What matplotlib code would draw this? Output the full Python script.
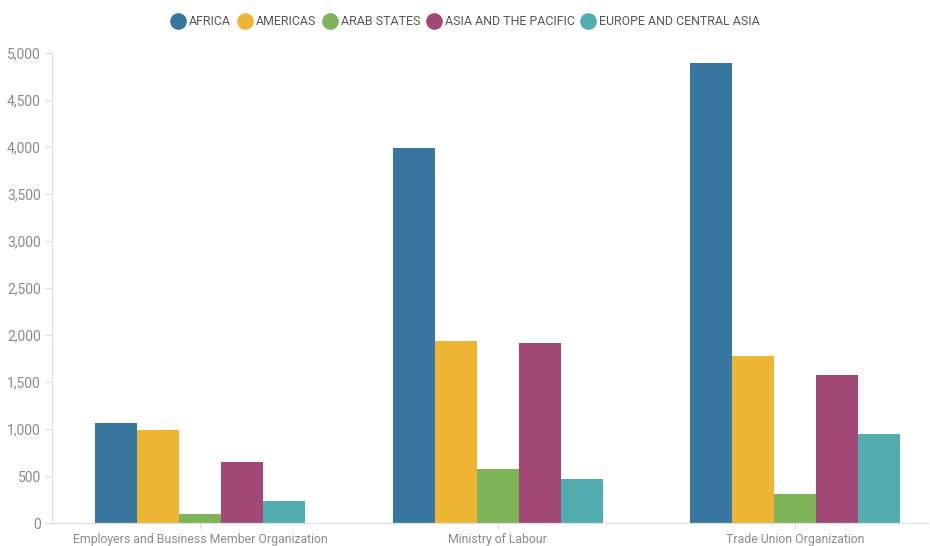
import matplotlib
matplotlib.use("Agg")
import matplotlib.pyplot as plt
import numpy as np
from matplotlib.ticker import FuncFormatter
from matplotlib.lines import Line2D

categories = ["Employers and Business Member Organization", "Ministry of Labour", "Trade Union Organization"]
series_names = ["AFRICA", "AMERICAS", "ARAB STATES", "ASIA AND THE PACIFIC", "EUROPE AND CENTRAL ASIA"]
africa = [1060, 3990, 4890]
americas = [985, 1940, 1780]
arab_states = [100, 570, 310]
asia_pacific = [645, 1910, 1570]
europe_central_asia = [240, 470, 950]
colors = ["#37769f", "#eeb534", "#7eb35a", "#a24877", "#52adaf"]

plt.rcParams['font.family'] = ['Roboto', 'DejaVu Sans']
fig = plt.figure(figsize=(9.3, 5.46), dpi=100)
ax = fig.add_axes([0.056, 0.042, 0.942, 0.861])

data = [africa, americas, arab_states, asia_pacific, europe_central_asia]
x = np.arange(len(categories))
w = 0.141
for i, (vals, c, name) in enumerate(zip(data, colors, series_names)):
    ax.bar(x + (i - 2) * w, vals, width=w, color=c, label=name, linewidth=0)

ax.set_ylim(0, 5000)
ax.set_xlim(-0.497, 2.446)
ax.set_yticks(np.arange(0, 5001, 500))
ax.yaxis.set_major_formatter(FuncFormatter(lambda v, p: f"{int(v):,}"))
ax.set_xticks(x)
ax.set_xticklabels(categories, fontsize=8.8)
tc = "#8a8a8a"
ax.tick_params(axis='y', colors="#dddddd", labelcolor=tc, labelsize=10, length=5, width=0.8, pad=3)
ax.tick_params(axis='x', colors="#dddddd", labelcolor=tc, length=4, width=0.8, pad=3)
for s in ["top", "right"]:
    ax.spines[s].set_visible(False)
for s in ["left", "bottom"]:
    ax.spines[s].set_color("#e0e0e0")
    ax.spines[s].set_linewidth(0.9)

handles = [Line2D([0], [0], marker='o', linestyle='none', markersize=12, markerfacecolor=c, markeredgewidth=0) for c in colors]
fig.legend(handles, series_names, loc='center', bbox_to_anchor=(0.5, 0.96), ncol=5, frameon=False,
           handletextpad=0.25, columnspacing=0.45, handlelength=1.3, fontsize=8.9, labelcolor="#555555")

fig.savefig("out.png", dpi=100, facecolor="white")
